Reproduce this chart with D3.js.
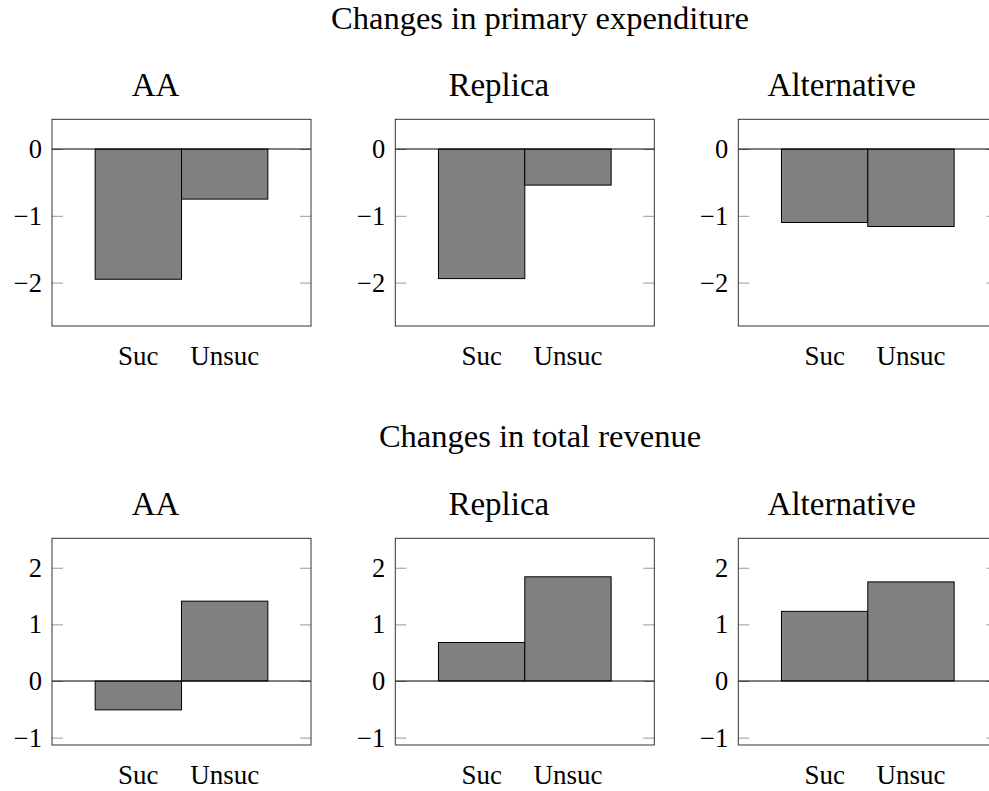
<!DOCTYPE html>
<html>
<head>
<meta charset="utf-8">
<script src="https://cdn.jsdelivr.net/npm/d3@7"></script>
<style>
  body { margin: 0; background: #fff; }
  svg text { font-family: "Liberation Serif", "DejaVu Serif", serif; fill: #000; }
</style>
</head>
<body>
<svg id="chart" width="989" height="791"></svg>
<script>
// data
var groups = ["AA", "Replica", "Alternative"];
var categories = ["Suc", "Unsuc"];

var expenditure = [[-1.95, -0.75], [-1.94, -0.54], [-1.10, -1.16]];
var revenue = [[-0.51, 1.41], [0.68, 1.84], [1.23, 1.75]];

var expTicks = [-2, -1, 0];
var revTicks = [-1, 0, 1, 2];
var expExtent = [-2.65, 0.445];
var revExtent = [-1.13, 2.52];

var rows = [
    { title: "Changes in primary expenditure", values: expenditure, ticks: expTicks, extent: expExtent },
    { title: "Changes in total revenue", values: revenue, ticks: revTicks, extent: revExtent }
];

// layout
var panelX = [52, 395.3, 738.3],
    panelY = [119.3, 538.3],
    width = 259,
    height = 206.7,
    titleY = [28.6, 446.5];

var svg = d3.select("#chart");

var x = d3.scaleBand()
    .domain(categories)
    .range([0, width])
    .paddingInner(0)
    .paddingOuter(0.5);

rows.forEach(function (row, r) {
    svg.append("text")
        .text(row.title)
        .attr("x", 540)
        .attr("y", titleY[r])
        .attr("text-anchor", "middle")
        .style("font-size", "32.5px");

    var y = d3.scaleLinear().domain(row.extent).range([height, 0]);

    groups.forEach(function (name, i) {
        var g = svg.append("g")
            .attr("transform", "translate(" + panelX[i] + "," + panelY[r] + ")");

        // panel title
        g.append("text")
            .text(name)
            .attr("x", width / 2 - 26)
            .attr("y", -23.3)
            .attr("text-anchor", "middle")
            .style("font-size", "33px");

        // ticks on both sides, pointing inwards
        var left = g.append("g")
            .call(d3.axisLeft(y).tickValues(row.ticks).tickFormat(d3.format("d"))
                .tickSize(-11).tickPadding(10));
        var right = g.append("g")
            .attr("transform", "translate(" + width + ",0)")
            .call(d3.axisRight(y).tickValues(row.ticks).tickSize(-11).tickFormat(""));
        [left, right].forEach(function (a) {
            a.attr("font-family", null);
            a.select(".domain").remove();
            a.selectAll("line").attr("stroke", "#999");
            a.selectAll("text").style("font-size", "26.5px").attr("fill", "#000");
        });

        // category labels
        g.selectAll("text.cat")
            .data(categories)
            .enter().append("text")
            .attr("class", "cat")
            .text(function (d) { return d; })
            .attr("x", function (d) { return x(d) + x.bandwidth() / 2; })
            .attr("y", height + 39)
            .attr("text-anchor", "middle")
            .style("font-size", "27px");

        // bars
        g.selectAll("rect.bar")
            .data(row.values[i])
            .enter().append("rect")
            .attr("class", "bar")
            .attr("x", function (d, j) { return x(categories[j]); })
            .attr("width", x.bandwidth())
            .attr("y", function (d) { return y(Math.max(0, d)); })
            .attr("height", function (d) { return Math.abs(y(d) - y(0)); })
            .attr("fill", "#808080")
            .attr("stroke", "#000")
            .attr("stroke-width", 1);

        // zero line
        g.append("line")
            .attr("x1", 0).attr("x2", width)
            .attr("y1", y(0)).attr("y2", y(0))
            .attr("stroke", "#000")
            .attr("stroke-width", 1);

        // frame
        g.append("rect")
            .attr("width", width)
            .attr("height", height)
            .attr("fill", "none")
            .attr("stroke", "#333")
            .attr("stroke-width", 1);
    });
});
</script>
</body>
</html>
